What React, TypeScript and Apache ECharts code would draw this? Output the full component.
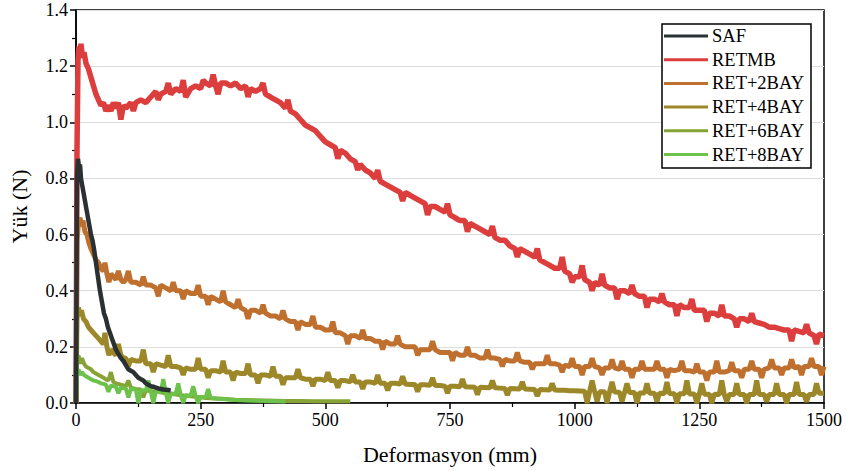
import React, { useEffect, useRef } from "react";
import * as echarts from "echarts";

const xTicks = [0, 250, 500, 750, 1000, 1250, 1500];
const seriesNames = ["SAF", "RETMB", "RET+2BAY", "RET+4BAY", "RET+6BAY", "RET+8BAY"];
const seriesColors = ["#2b3033", "#dc3d3d", "#bf6f2e", "#9c8729", "#87a336", "#6cc24a"];

const safData: number[][] = [
  [0, 0], [2, 0.8], [4, 0.87], [6, 0.84], [8, 0.85], [10, 0.8], [12, 0.78], [15, 0.75], [18, 0.72],
  [21, 0.69], [24, 0.66], [27, 0.63], [30, 0.6], [33, 0.58], [36, 0.55], [40, 0.5], [44, 0.45],
  [48, 0.4], [52, 0.36], [56, 0.32], [60, 0.3], [64, 0.27], [68, 0.25], [72, 0.23], [76, 0.21],
  [80, 0.19], [85, 0.175], [90, 0.16], [95, 0.15], [100, 0.135], [105, 0.12], [110, 0.115],
  [115, 0.11], [120, 0.1], [125, 0.09], [130, 0.085], [135, 0.08], [140, 0.07], [145, 0.065],
  [150, 0.06], [155, 0.058], [160, 0.055], [165, 0.052], [170, 0.05], [175, 0.048], [180, 0.047],
  [185, 0.046], [190, 0.045],
];

const retmbData: number[][] = [
  [0, 0], [2, 0.9], [4, 1.22], [6, 1.27], [8, 1.24], [10, 1.28], [13, 1.23], [16, 1.25], [20, 1.21],
  [25, 1.19], [30, 1.16], [35, 1.13], [40, 1.1], [45, 1.08], [50, 1.06], [55, 1.07], [60, 1.04],
  [65, 1.06], [70, 1.04], [75, 1.07], [80, 1.05], [85, 1.07], [90, 1.01], [95, 1.06], [100, 1.05],
  [110, 1.07], [115, 1.04], [120, 1.07], [130, 1.08], [140, 1.07], [150, 1.09], [160, 1.11],
  [165, 1.08], [170, 1.1], [180, 1.11], [185, 1.14], [190, 1.1], [200, 1.12], [210, 1.11],
  [215, 1.15], [220, 1.09], [230, 1.12], [240, 1.13], [250, 1.12], [255, 1.15], [260, 1.14],
  [270, 1.13], [275, 1.17], [280, 1.13], [285, 1.1], [290, 1.14], [300, 1.14], [310, 1.13],
  [320, 1.14], [330, 1.12], [340, 1.13], [345, 1.09], [350, 1.12], [360, 1.11], [370, 1.12],
  [375, 1.14], [380, 1.1], [390, 1.09], [400, 1.08], [410, 1.07], [420, 1.05], [425, 1.08],
  [430, 1.04], [440, 1.03], [450, 1.01], [460, 0.99], [470, 0.98], [480, 0.97], [490, 0.95],
  [500, 0.93], [510, 0.92], [520, 0.91], [525, 0.87], [530, 0.9], [540, 0.89], [550, 0.87],
  [560, 0.86], [565, 0.83], [570, 0.85], [580, 0.83], [590, 0.82], [600, 0.8], [605, 0.83],
  [610, 0.79], [620, 0.78], [630, 0.77], [640, 0.76], [650, 0.75], [655, 0.72], [660, 0.75],
  [670, 0.74], [680, 0.73], [690, 0.72], [700, 0.71], [705, 0.67], [710, 0.7], [720, 0.7],
  [730, 0.69], [740, 0.68], [745, 0.71], [750, 0.67], [760, 0.66], [770, 0.65], [780, 0.65],
  [785, 0.61], [790, 0.64], [800, 0.63], [810, 0.62], [820, 0.61], [830, 0.6], [835, 0.63],
  [840, 0.59], [850, 0.58], [860, 0.58], [870, 0.56], [880, 0.55], [885, 0.52], [890, 0.55],
  [900, 0.54], [910, 0.53], [920, 0.52], [925, 0.55], [930, 0.51], [940, 0.5], [950, 0.49],
  [960, 0.48], [970, 0.48], [975, 0.52], [980, 0.47], [990, 0.46], [995, 0.43], [1000, 0.45],
  [1010, 0.45], [1015, 0.49], [1020, 0.44], [1030, 0.43], [1035, 0.4], [1040, 0.43], [1050, 0.42],
  [1055, 0.46], [1060, 0.42], [1070, 0.41], [1080, 0.41], [1085, 0.37], [1090, 0.4], [1100, 0.4],
  [1110, 0.39], [1115, 0.42], [1120, 0.39], [1130, 0.38], [1140, 0.38], [1145, 0.34], [1150, 0.37],
  [1160, 0.37], [1170, 0.36], [1175, 0.39], [1180, 0.36], [1190, 0.35], [1200, 0.35], [1205, 0.31],
  [1210, 0.35], [1220, 0.34], [1230, 0.34], [1235, 0.37], [1240, 0.33], [1250, 0.33], [1260, 0.33],
  [1265, 0.29], [1270, 0.32], [1280, 0.32], [1290, 0.31], [1295, 0.35], [1300, 0.31], [1310, 0.31],
  [1320, 0.3], [1325, 0.27], [1330, 0.3], [1340, 0.3], [1350, 0.29], [1355, 0.32], [1360, 0.29],
  [1370, 0.285], [1380, 0.28], [1390, 0.27], [1400, 0.27], [1410, 0.265], [1420, 0.26], [1430, 0.26],
  [1435, 0.22], [1440, 0.26], [1450, 0.255], [1460, 0.25], [1465, 0.28], [1470, 0.25], [1480, 0.24],
  [1485, 0.21], [1490, 0.245], [1500, 0.24],
];

const ret2Data: number[][] = [
  [0, 0], [2, 0.58], [5, 0.64], [8, 0.66], [11, 0.63], [14, 0.65], [18, 0.61], [22, 0.6], [26, 0.57],
  [30, 0.55], [35, 0.53], [40, 0.51], [45, 0.5], [50, 0.48], [55, 0.47], [58, 0.5], [62, 0.46],
  [66, 0.43], [70, 0.46], [75, 0.45], [80, 0.44], [85, 0.47], [90, 0.44], [95, 0.43], [100, 0.44],
  [105, 0.47], [110, 0.43], [120, 0.43], [130, 0.42], [135, 0.45], [140, 0.42], [150, 0.42],
  [160, 0.41], [165, 0.38], [170, 0.42], [180, 0.41], [190, 0.4], [195, 0.43], [200, 0.4], [210, 0.4],
  [215, 0.37], [220, 0.4], [230, 0.39], [240, 0.39], [245, 0.42], [250, 0.38], [260, 0.38], [265, 0.35],
  [270, 0.38], [280, 0.37], [290, 0.36], [295, 0.4], [300, 0.36], [310, 0.35], [320, 0.34], [325, 0.37],
  [330, 0.34], [340, 0.33], [345, 0.3], [350, 0.33], [360, 0.33], [370, 0.32], [375, 0.35], [380, 0.32],
  [390, 0.31], [400, 0.31], [410, 0.3], [415, 0.33], [420, 0.3], [430, 0.29], [440, 0.29], [445, 0.26],
  [450, 0.29], [460, 0.28], [470, 0.28], [475, 0.31], [480, 0.27], [490, 0.27], [500, 0.26], [510, 0.26],
  [515, 0.29], [520, 0.25], [530, 0.25], [540, 0.24], [545, 0.21], [550, 0.24], [560, 0.24], [570, 0.23],
  [575, 0.26], [580, 0.23], [590, 0.23], [600, 0.22], [610, 0.22], [615, 0.19], [620, 0.22], [630, 0.21],
  [640, 0.21], [645, 0.24], [650, 0.21], [660, 0.2], [670, 0.2], [680, 0.2], [685, 0.17], [690, 0.19],
  [700, 0.19], [710, 0.19], [715, 0.22], [720, 0.19], [730, 0.18], [740, 0.18], [750, 0.18], [755, 0.15],
  [760, 0.18], [770, 0.17], [780, 0.17], [785, 0.2], [790, 0.17], [800, 0.17], [810, 0.16], [820, 0.16],
  [825, 0.19], [830, 0.16], [840, 0.16], [850, 0.155], [855, 0.13], [860, 0.155], [870, 0.15], [880, 0.15],
  [885, 0.18], [890, 0.15], [900, 0.145], [910, 0.145], [915, 0.12], [920, 0.14], [930, 0.14], [940, 0.14],
  [945, 0.17], [950, 0.14], [960, 0.14], [970, 0.135], [975, 0.11], [980, 0.135], [990, 0.13], [995, 0.16],
  [1000, 0.13], [1010, 0.13], [1015, 0.1], [1020, 0.13], [1030, 0.13], [1035, 0.16], [1040, 0.13],
  [1050, 0.125], [1055, 0.1], [1060, 0.125], [1070, 0.125], [1075, 0.155], [1080, 0.125], [1090, 0.12],
  [1095, 0.15], [1100, 0.12], [1110, 0.12], [1115, 0.09], [1120, 0.12], [1130, 0.12], [1135, 0.15],
  [1140, 0.12], [1150, 0.12], [1160, 0.12], [1165, 0.15], [1170, 0.12], [1180, 0.12], [1185, 0.09],
  [1190, 0.12], [1200, 0.115], [1210, 0.12], [1215, 0.15], [1220, 0.115], [1230, 0.115], [1240, 0.11],
  [1245, 0.14], [1250, 0.11], [1260, 0.11], [1265, 0.08], [1270, 0.11], [1280, 0.11], [1285, 0.15],
  [1290, 0.11], [1300, 0.11], [1310, 0.115], [1315, 0.145], [1320, 0.115], [1330, 0.115], [1335, 0.09],
  [1340, 0.12], [1350, 0.12], [1355, 0.15], [1360, 0.12], [1370, 0.12], [1375, 0.09], [1380, 0.12],
  [1390, 0.125], [1395, 0.155], [1400, 0.125], [1410, 0.125], [1415, 0.1], [1420, 0.125], [1430, 0.125],
  [1435, 0.155], [1440, 0.125], [1450, 0.13], [1455, 0.1], [1460, 0.13], [1470, 0.13], [1475, 0.16],
  [1480, 0.13], [1490, 0.13], [1495, 0.1], [1500, 0.13],
];

const ret4Data: number[][] = [
  [0, 0], [2, 0.3], [5, 0.34], [8, 0.31], [11, 0.33], [15, 0.3], [20, 0.29], [25, 0.27], [30, 0.26],
  [35, 0.25], [40, 0.24], [45, 0.23], [50, 0.22], [55, 0.21], [58, 0.25], [62, 0.2], [66, 0.17],
  [70, 0.19], [75, 0.18], [80, 0.17], [85, 0.21], [90, 0.17], [95, 0.16], [100, 0.16], [105, 0.13],
  [110, 0.155], [120, 0.15], [130, 0.15], [135, 0.19], [140, 0.14], [150, 0.14], [155, 0.11], [160, 0.14],
  [170, 0.135], [180, 0.13], [185, 0.17], [190, 0.13], [200, 0.13], [210, 0.125], [215, 0.1], [220, 0.125],
  [230, 0.12], [240, 0.12], [245, 0.16], [250, 0.12], [260, 0.12], [265, 0.09], [270, 0.115], [280, 0.115],
  [290, 0.11], [295, 0.15], [300, 0.11], [310, 0.11], [315, 0.08], [320, 0.11], [330, 0.105], [340, 0.105],
  [345, 0.14], [350, 0.1], [360, 0.1], [365, 0.07], [370, 0.1], [380, 0.1], [390, 0.095], [395, 0.13],
  [400, 0.095], [410, 0.095], [415, 0.065], [420, 0.09], [430, 0.09], [440, 0.09], [445, 0.12], [450, 0.09],
  [460, 0.085], [470, 0.085], [475, 0.06], [480, 0.085], [490, 0.085], [500, 0.08], [505, 0.11], [510, 0.08],
  [520, 0.08], [525, 0.055], [530, 0.08], [540, 0.08], [550, 0.075], [555, 0.1], [560, 0.075], [570, 0.075],
  [575, 0.05], [580, 0.075], [590, 0.075], [600, 0.07], [605, 0.1], [610, 0.07], [620, 0.07], [625, 0.045],
  [630, 0.07], [640, 0.07], [650, 0.068], [655, 0.095], [660, 0.068], [670, 0.066], [680, 0.066],
  [685, 0.04], [690, 0.065], [700, 0.065], [710, 0.063], [715, 0.09], [720, 0.062], [730, 0.062],
  [740, 0.06], [745, 0.035], [750, 0.06], [760, 0.06], [770, 0.058], [775, 0.085], [780, 0.058],
  [790, 0.057], [800, 0.056], [805, 0.03], [810, 0.056], [820, 0.055], [830, 0.054], [835, 0.08],
  [840, 0.054], [850, 0.053], [860, 0.052], [865, 0.028], [870, 0.052], [880, 0.051], [890, 0.05],
  [895, 0.075], [900, 0.05], [910, 0.049], [920, 0.048], [925, 0.025], [930, 0.048], [940, 0.047],
  [950, 0.046], [955, 0.07], [960, 0.046], [970, 0.045], [980, 0.045], [990, 0.044], [1000, 0.044],
  [1010, 0.043], [1020, 0.042], [1025, 0.0], [1030, 0.042], [1035, 0.08], [1040, 0.041], [1045, 0.005],
  [1050, 0.04], [1060, 0.04], [1065, 0.0], [1070, 0.04], [1075, 0.075], [1080, 0.039], [1090, 0.038],
  [1095, 0.005], [1100, 0.038], [1105, 0.07], [1110, 0.037], [1120, 0.037], [1125, 0.0], [1130, 0.036],
  [1140, 0.036], [1145, 0.07], [1150, 0.035], [1160, 0.035], [1165, 0.005], [1170, 0.035], [1180, 0.034],
  [1185, 0.075], [1190, 0.034], [1200, 0.033], [1205, 0.0], [1210, 0.033], [1220, 0.033], [1225, 0.08],
  [1230, 0.032], [1240, 0.032], [1245, 0.0], [1250, 0.032], [1255, 0.07], [1260, 0.031], [1270, 0.031],
  [1275, 0.0], [1280, 0.031], [1290, 0.03], [1295, 0.08], [1300, 0.03], [1305, 0.005], [1310, 0.03],
  [1320, 0.03], [1325, 0.07], [1330, 0.03], [1340, 0.03], [1345, 0.0], [1350, 0.03], [1360, 0.03],
  [1365, 0.08], [1370, 0.03], [1380, 0.03], [1385, 0.005], [1390, 0.03], [1400, 0.03], [1405, 0.07],
  [1410, 0.03], [1420, 0.03], [1425, 0.0], [1430, 0.03], [1440, 0.03], [1445, 0.075], [1450, 0.03],
  [1460, 0.03], [1465, 0.005], [1470, 0.03], [1480, 0.03], [1485, 0.07], [1490, 0.035], [1500, 0.035],
];

const ret6Data: number[][] = [
  [0, 0], [2, 0.15], [5, 0.17], [8, 0.14], [12, 0.16], [16, 0.14], [20, 0.13], [25, 0.125], [30, 0.12],
  [35, 0.11], [40, 0.105], [45, 0.1], [50, 0.095], [55, 0.09], [60, 0.085], [65, 0.08], [70, 0.11],
  [75, 0.075], [80, 0.07], [90, 0.065], [100, 0.06], [105, 0.08], [110, 0.055], [120, 0.05], [130, 0.048],
  [135, 0.02], [140, 0.045], [150, 0.042], [160, 0.04], [170, 0.038], [180, 0.035], [190, 0.033],
  [200, 0.03], [210, 0.028], [220, 0.026], [230, 0.024], [240, 0.022], [250, 0.02], [260, 0.018],
  [280, 0.016], [300, 0.014], [320, 0.012], [340, 0.011], [360, 0.01], [380, 0.009], [400, 0.008],
  [420, 0.007], [450, 0.007], [480, 0.006], [500, 0.006], [530, 0.006], [550, 0.006],
];

const ret8Data: number[][] = [
  [0, 0], [2, 0.1], [5, 0.12], [8, 0.1], [12, 0.11], [16, 0.1], [20, 0.095], [25, 0.09], [30, 0.085],
  [35, 0.08], [40, 0.078], [45, 0.075], [50, 0.07], [55, 0.068], [60, 0.065], [65, 0.04], [70, 0.062],
  [75, 0.06], [80, 0.058], [85, 0.035], [90, 0.055], [95, 0.053], [100, 0.052], [105, 0.02], [110, 0.05],
  [120, 0.048], [125, 0.0], [130, 0.046], [140, 0.044], [145, 0.08], [150, 0.042], [155, 0.0], [160, 0.04],
  [170, 0.038], [175, 0.085], [180, 0.036], [185, 0.0], [190, 0.034], [200, 0.032], [205, 0.07], [210, 0.03],
  [215, 0.0], [220, 0.028], [230, 0.026], [235, 0.06], [240, 0.024], [245, 0.0], [250, 0.022], [260, 0.02],
  [265, 0.05], [270, 0.018], [280, 0.016], [290, 0.015], [300, 0.013], [310, 0.012], [320, 0.011],
  [330, 0.01], [340, 0.009], [360, 0.008], [380, 0.007], [400, 0.006], [420, 0.005],
];

const allData = [safData, retmbData, ret2Data, ret4Data, ret6Data, ret8Data];
const zOrder = [8, 2, 3, 4, 5, 6];
const widths = [4.5, 5.5, 5, 5, 4, 4];

const FONT = "Liberation Serif";

// legend box layout (pixels)
const LEG_X = 662;
const LEG_Y = 24;
const LEG_W = 149;
const LEG_H = 144;
const LEG_ROW0 = 36;
const LEG_STEP = 23.7;

export default function App() {
  const ref = useRef<HTMLDivElement>(null);
  useEffect(() => {
    if (!ref.current) return;
    const chart = echarts.init(ref.current, null, { renderer: "svg" });

    const legendElements: any[] = [
      {
        type: "rect", z: 100,
        shape: { x: LEG_X, y: LEG_Y, width: LEG_W, height: LEG_H },
        style: { fill: "#fff", stroke: "#000", lineWidth: 1.5 },
      },
    ];
    seriesNames.forEach((name, i) => {
      const yy = LEG_ROW0 + i * LEG_STEP;
      legendElements.push({
        type: "line", z: 101,
        shape: { x1: LEG_X + 2, y1: yy, x2: LEG_X + 46, y2: yy },
        style: { stroke: seriesColors[i], lineWidth: 3 },
      });
      legendElements.push({
        type: "text", z: 101, x: LEG_X + 50, y: yy,
        style: { text: name, fontFamily: FONT, fontSize: 18.5, fill: "#000", verticalAlign: "middle", align: "left" },
      });
    });

    chart.setOption({
      animation: false,
      backgroundColor: "#ffffff",
      textStyle: { fontFamily: FONT },
      graphic: legendElements,
      grid: {
        left: 69, right: 22, top: 10, bottom: 68,
        show: true, borderColor: "#000", borderWidth: 1.5, backgroundColor: "transparent",
      },
      xAxis: {
        type: "value", min: 0, max: 1500, interval: 250,
        name: "Deformasyon (mm)", nameLocation: "middle", nameGap: 40,
        nameTextStyle: { fontFamily: FONT, fontSize: 22, color: "#000" },
        axisLine: { show: true, onZero: false, lineStyle: { color: "#000", width: 1.5 } },
        axisTick: { show: true, length: 6, lineStyle: { color: "#000", width: 1.5 } },
        minorTick: { show: true, splitNumber: 2, length: 4, lineStyle: { color: "#000", width: 1.2 } },
        axisLabel: { fontFamily: FONT, fontSize: 18, color: "#000", margin: 8,
          formatter: (v: number) => (xTicks.includes(v) ? String(v) : "") },
        splitLine: { show: false },
      },
      yAxis: {
        type: "value", min: 0, max: 1.4, interval: 0.2,
        name: "Yük (N)", nameLocation: "middle", nameGap: 46, nameRotate: 90,
        nameTextStyle: { fontFamily: FONT, fontSize: 22, color: "#000" },
        axisLine: { show: true, lineStyle: { color: "#000", width: 1.5 } },
        axisTick: { show: true, length: 6, lineStyle: { color: "#000", width: 1.5 } },
        minorTick: { show: true, splitNumber: 2, length: 4, lineStyle: { color: "#000", width: 1.2 } },
        axisLabel: { fontFamily: FONT, fontSize: 18, color: "#000", margin: 8,
          formatter: (v: number) => v.toFixed(1) },
        splitLine: { show: true, lineStyle: { color: "#dedede", width: 1.2 } },
      },
      series: seriesNames.map((name, i) => ({
        name, type: "line", data: allData[i], showSymbol: false, symbol: "none",
        z: zOrder[i], color: seriesColors[i],
        lineStyle: { color: seriesColors[i], width: widths[i], join: "bevel" },
      })),
    });
    return () => chart.dispose();
  }, []);
  return <div ref={ref} style={{ position: "absolute", left: 0, top: 0, width: 846, height: 471 }} />;
}
